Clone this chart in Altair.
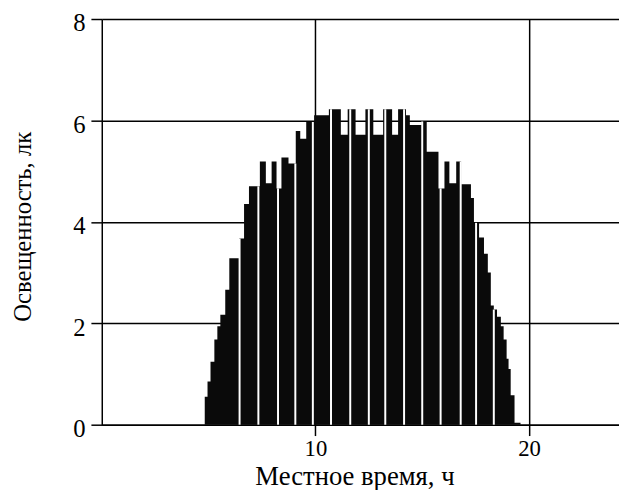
import bisect
import altair as alt
import pandas as pd

# Envelope of the illuminance record: left edge of each step (h) and its top (lx)
step_start = [4.82, 4.95, 5.09, 5.27, 5.41, 5.55, 5.78, 5.97, 6.43, 6.66,
              6.89, 7.40, 7.68, 7.95, 8.18, 8.41, 8.74, 9.08, 9.29, 9.57,
              9.94, 10.63, 11.19, 11.51, 11.88, 12.34, 12.71, 13.17, 13.59, 13.87,
              14.24, 14.42, 14.98, 15.21, 15.76, 16.04, 16.27, 16.59, 16.82, 17.28,
              17.42, 17.66, 17.89, 18.07, 18.21, 18.35, 18.50, 18.68, 18.81, 18.95,
              19.04, 19.14, 19.32]
step_top = [0.55, 0.85, 1.24, 1.68, 1.94, 2.17, 2.66, 3.28, 3.67, 4.35,
            4.70, 5.19, 4.76, 5.19, 4.66, 5.27, 5.15, 5.79, 5.64, 5.97,
            6.10, 6.22, 5.72, 6.22, 5.72, 6.22, 5.72, 6.22, 5.72, 6.22,
            6.10, 5.91, 5.98, 5.38, 4.66, 5.19, 4.76, 5.19, 4.74, 4.47,
            3.98, 3.69, 3.37, 3.00, 2.35, 2.27, 2.13, 1.94, 1.68, 1.30,
            1.10, 0.58, 0.04]
step_end = 19.60

# White gaps between recording sessions (h)
gap_times = [6.45, 7.33, 8.25, 9.06, 9.88, 10.73, 11.63, 12.50, 13.27, 14.15,
             15.00, 15.86, 16.80, 17.52, 18.35]

x_ticks = [10, 20]
y_ticks = [0, 2, 4, 6, 8]

envelope = pd.DataFrame({
    "t": step_start + [step_end],
    "v": step_top + [0.0],
})
gaps = pd.DataFrame({
    "t": gap_times,
    "v": [step_top[bisect.bisect_right(step_start, g) - 1] for g in gap_times],
    "base": [0.0] * len(gap_times),
})

FONT = "Liberation Serif"

xscale = alt.Scale(domain=[0, 24.21], nice=False, zero=False)
yscale = alt.Scale(domain=[0, 8], nice=False)

xaxis = alt.Axis(values=x_ticks, title="Местное время, ч", grid=True,
                 tickSize=11, labelPadding=2, labelFontSize=23,
                 labelFont=FONT, titleFont=FONT, titleFontSize=27,
                 titleX=256, titleY=61, titleAlign="center",
                 titleBaseline="alphabetic")
yaxis = alt.Axis(values=y_ticks, title="Освещенность, лк", grid=True,
                 tickSize=11, labelPadding=6, labelOffset=4, labelFontSize=25,
                 labelFont=FONT, titleFont=FONT, titleFontSize=25,
                 titleX=-80, titleY=210, titleBaseline="middle")

area = alt.Chart(envelope).mark_area(
    color="#0a0a0a", opacity=1, interpolate="step-after"
).encode(
    x=alt.X("t:Q", scale=xscale, axis=xaxis),
    y=alt.Y("v:Q", scale=yscale, axis=yaxis),
)

gap_rules = alt.Chart(gaps).mark_rule(color="white", strokeWidth=2).encode(
    x=alt.X("t:Q", scale=xscale),
    y=alt.Y("v:Q", scale=yscale),
    y2="base:Q",
)

chart = (area + gap_rules).properties(
    width=524, height=411,
    autosize=alt.AutoSizeParams(type="none"),
    padding={"left": 95, "top": 8, "right": 0, "bottom": 63},
).configure(font=FONT).configure_view(stroke=None).configure_axis(
    domainColor="black", domainWidth=1.5,
    gridColor="black", gridWidth=1.5, gridOpacity=1,
    tickColor="black", tickWidth=1.5,
    labelColor="black",
    titleFontWeight="normal", titleColor="black",
    zindex=1,
)

chart.save("out.html", embed_options={"renderer": "svg", "actions": False})
